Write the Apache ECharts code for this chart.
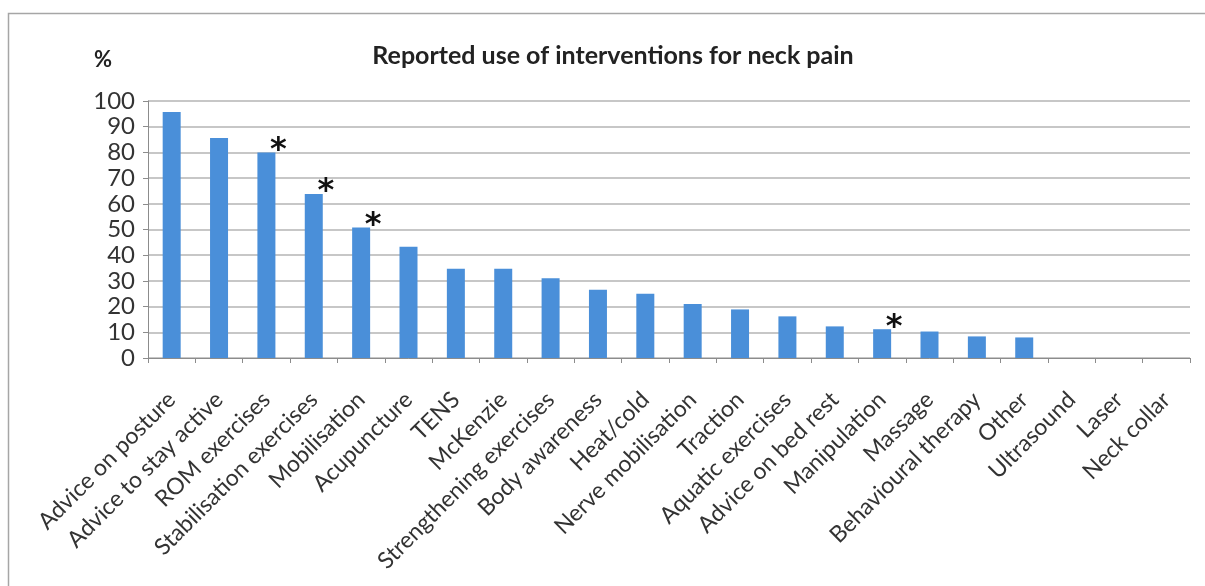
<!DOCTYPE html>
<html>
<head>
<meta charset="utf-8">
<script src="https://cdn.jsdelivr.net/npm/echarts@6/dist/echarts.min.js"></script>
<style>
html,body{margin:0;padding:0;background:#fff;}
#chart{width:1205px;height:586px;}
</style>
</head>
<body>
<div id="chart"></div>
<script>
const categories = ["Advice on posture","Advice to stay active","ROM exercises","Stabilisation exercises","Mobilisation","Acupuncture","TENS","McKenzie","Strengthening exercises","Body awareness","Heat/cold","Nerve mobilisation","Traction","Aquatic exercises","Advice on bed rest","Manipulation","Massage","Behavioural therapy","Other","Ultrasound","Laser","Neck collar"];
const values = [95.7, 85.6, 80, 63.8, 50.8, 43.3, 34.7, 34.7, 31, 26.6, 25, 21, 18.9, 16.2, 12.3, 11.2, 10.3, 8.4, 8, 0, 0, 0];
const significant = ["ROM exercises","Stabilisation exercises","Mobilisation","Manipulation"];
const yTicks = {min: 0, max: 100, interval: 10};
const titleText = "Reported use of interventions for neck pain";
const yUnit = "%";

const chart = echarts.init(document.getElementById('chart'));
const font = 'Lato, "Liberation Sans", sans-serif';
const data = categories.map((c, i) => {
  const item = {value: values[i]};
  if (significant.indexOf(c) >= 0) {
    item.label = {show: true, formatter: '*', position: 'top', offset: [12, 19],
      fontSize: 32, fontWeight: 'bold', fontFamily: '"DejaVu Sans", sans-serif', color: '#111'};
  }
  return item;
});
chart.setOption({
  animation: false,
  backgroundColor: '#fff',
  title: {text: titleText, left: 608, top: 38, textAlign: 'center',
    textStyle: {fontFamily: font, fontSize: 25, fontWeight: 'bold', color: '#222'}},
  graphic: [
    {type: 'rect', shape: {x: 8.5, y: 13.5, width: 1300, height: 700},
      style: {fill: 'none', stroke: '#a6a6a6', lineWidth: 1.5}, silent: true},
    {type: 'text', left: 94, top: 49, style: {text: yUnit, font: 'bold 22px ' + font, fill: '#222'}}
  ],
  grid: {left: 148, right: 15, top: 101, bottom: 228},
  xAxis: {
    type: 'category', data: categories,
    axisLine: {lineStyle: {color: '#8c8c8c', width: 1}},
    axisTick: {show: true, length: 5, lineStyle: {color: '#8c8c8c'}},
    axisLabel: {rotate: 45, interval: 0, margin: 38, fontFamily: font, fontSize: 23, color: '#333'}
  },
  yAxis: {
    type: 'value', min: yTicks.min, max: yTicks.max, interval: yTicks.interval,
    axisLine: {show: true, lineStyle: {color: '#8c8c8c'}},
    axisTick: {show: true, length: 5, lineStyle: {color: '#8c8c8c'}},
    splitLine: {lineStyle: {color: '#b5b5b5', width: 1.5}},
    axisLabel: {margin: 13, fontFamily: font, fontSize: 24, color: '#333'}
  },
  series: [{
    type: 'bar', data: data, barWidth: 18,
    itemStyle: {color: '#4a8fd9'}
  }]
});
</script>
</body>
</html>
